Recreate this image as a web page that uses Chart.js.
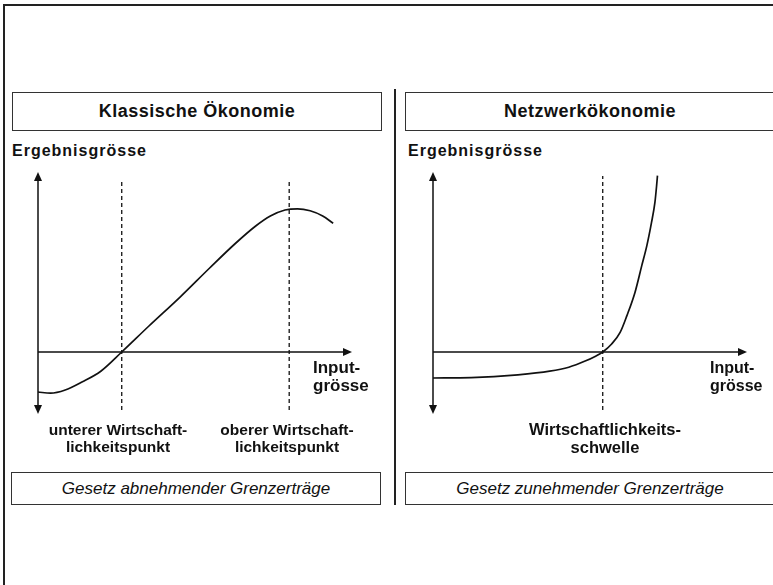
<!DOCTYPE html>
<html lang="de">
<head>
<meta charset="utf-8">
<title>Klassische Ökonomie / Netzwerkökonomie</title>
<script src="https://cdn.jsdelivr.net/npm/chart.js@4/dist/chart.umd.min.js"></script>
<style>
  html, body { margin: 0; padding: 0; background: #fff; }
  body { width: 773px; height: 585px; position: relative; overflow: hidden;
         font-family: "Liberation Sans", Arial, Helvetica, sans-serif; color: #111; }
  .frame-top { position: absolute; left: 3px; top: 4px; width: 780px; height: 2px; background: #222; }
  .frame-left { position: absolute; left: 3px; top: 4px; width: 2px; height: 600px; background: #222; }
  .divider { position: absolute; left: 394px; top: 89px; width: 1.5px; height: 416px; background: #222; }
  .box { position: absolute; border: 1px solid #333; box-sizing: border-box;
         display: flex; align-items: center; justify-content: center; }
  .title { font-weight: bold; font-size: 18px; letter-spacing: 0.5px; }
  .law { font-style: italic; font-size: 17px; }
  .lbl { position: absolute; font-weight: bold; white-space: nowrap; }
  .ylab { font-size: 16px; letter-spacing: 1px; }
  .xlab { line-height: 18px; }
  .pt { text-align: center; transform: translateX(-50%); }
  canvas { position: absolute; }
</style>
</head>
<body>
<div class="frame-top"></div>
<div class="frame-left"></div>
<div class="divider"></div>

<div class="box title" style="left:12px;top:92px;width:370px;height:39px;">Klassische Ökonomie</div>
<div class="box title" style="left:405px;top:92px;width:370px;height:39px;">Netzwerkökonomie</div>

<div class="lbl ylab" style="left:12px;top:142px;">Ergebnisgrösse</div>
<div class="lbl ylab" style="left:408px;top:142px;">Ergebnisgrösse</div>

<canvas id="classic" width="392" height="290" style="left:0;top:150px;"></canvas>
<canvas id="network" width="379" height="290" style="left:394px;top:150px;"></canvas>

<div class="lbl xlab" style="left:313px;top:359px;font-size:17px;">Input-<br>grösse</div>
<div class="lbl xlab" style="left:710px;top:359px;font-size:16px;">Input-<br>grösse</div>

<div class="lbl pt" style="left:118px;top:421px;font-size:15.5px;line-height:17px;">unterer Wirtschaft-<br>lichkeitspunkt</div>
<div class="lbl pt" style="left:287px;top:421px;font-size:15.5px;line-height:17px;">oberer Wirtschaft-<br>lichkeitspunkt</div>
<div class="lbl pt" style="left:605px;top:420px;font-size:16.5px;line-height:18px;">Wirtschaftlichkeits-<br>schwelle</div>

<div class="box law" style="left:11px;top:472px;width:370px;height:33px;">Gesetz abnehmender Grenzerträge</div>
<div class="box law" style="left:405px;top:472px;width:370px;height:33px;">Gesetz zunehmender Grenzerträge</div>

<script>
// Ertragskurve bei abnehmenden Grenzerträgen
const classicX = [0, 0.3, 0.65, 1.05, 1.5, 2, 2.65, 3.4, 4.1, 4.7, 5.2, 5.55, 5.9, 6.2, 6.5, 6.8, 7.05];
const classicY = [-1.0, -1.03, -0.95, -0.75, -0.48, 0, 0.65, 1.38, 2.1, 2.7, 3.15, 3.4, 3.55, 3.58, 3.53, 3.4, 3.22];
// untere und obere Wirtschaftlichkeitspunkte
const classicMarks = [2, 6];

// Ertragskurve bei zunehmenden Grenzerträgen
const networkX = [0, 0.9, 2.0, 2.75, 3.2, 3.6, 3.82, 4.0, 4.21, 4.41, 4.57, 4.76, 4.92, 5.04, 5.15, 5.23, 5.27, 5.29];
const networkY = [-0.65, -0.64, -0.57, -0.48, -0.38, -0.22, -0.11, 0, 0.2, 0.49, 0.91, 1.49, 2.16, 2.66, 3.24, 3.74, 4.16, 4.41];
// Wirtschaftlichkeitsschwelle
const networkMarks = [4];

const INK = '#111';

function arrowHead(ctx, x, y, dir) {
  // dir: 'up' | 'down' | 'right'
  const L = 9, W = 4;
  ctx.beginPath();
  if (dir === 'up') { ctx.moveTo(x, y); ctx.lineTo(x - W, y + L); ctx.lineTo(x + W, y + L); }
  if (dir === 'down') { ctx.moveTo(x, y); ctx.lineTo(x - W, y - L); ctx.lineTo(x + W, y - L); }
  if (dir === 'right') { ctx.moveTo(x, y); ctx.lineTo(x - L, y - W); ctx.lineTo(x - L, y + W); }
  ctx.closePath();
  ctx.fill();
}

// Achsenkreuz mit Pfeilen, am Nullpunkt der Skalen
const axesArrows = {
  id: 'axesArrows',
  afterDatasetsDraw(chart) {
    const { ctx, scales: { x, y } } = chart;
    const x0 = x.getPixelForValue(0);
    const y0 = y.getPixelForValue(0);
    const yTop = y.getPixelForValue(y.max);
    const yBot = y.getPixelForValue(y.min);
    const xEnd = x.getPixelForValue(x.max);
    ctx.save();
    ctx.strokeStyle = INK;
    ctx.fillStyle = INK;
    ctx.lineWidth = 1.5;
    ctx.beginPath();
    ctx.moveTo(x0, yTop + 4); ctx.lineTo(x0, yBot - 4);
    ctx.moveTo(x0, y0); ctx.lineTo(xEnd - 4, y0);
    ctx.stroke();
    arrowHead(ctx, x0, yTop, 'up');
    arrowHead(ctx, x0, yBot, 'down');
    arrowHead(ctx, xEnd, y0, 'right');
    ctx.restore();
  }
};

function markLines(xs, top, bottom) {
  return xs.map(v => ({
    data: [{ x: v, y: bottom }, { x: v, y: top }],
    borderColor: INK,
    borderWidth: 1.3,
    borderDash: [4, 3],
    pointRadius: 0
  }));
}

function curve(xs, ys) {
  return {
    data: xs.map((v, i) => ({ x: v, y: ys[i] })),
    borderColor: INK,
    borderWidth: 1.7,
    pointRadius: 0,
    cubicInterpolationMode: 'monotone'
  };
}

function makeChart(id, xs, ys, marks, xMax, markTop, pad) {
  return new Chart(document.getElementById(id), {
    type: 'line',
    data: { datasets: [...markLines(marks, markTop, -1.45), curve(xs, ys)] },
    options: {
      responsive: false,
      animation: false,
      layout: { padding: pad },
      plugins: { legend: { display: false }, tooltip: { enabled: false } },
      scales: {
        x: { type: 'linear', min: 0, max: xMax, display: false },
        y: { type: 'linear', min: -1.55, max: 4.5, display: false }
      }
    },
    plugins: [axesArrows]
  });
}

makeChart('classic', classicX, classicY, classicMarks, 7.5, 4.3, { left: 38, right: 40, top: 22, bottom: 26 });
makeChart('network', networkX, networkY, networkMarks, 7.4, 4.4, { left: 39, right: 26, top: 22, bottom: 26 });
</script>
</body>
</html>
